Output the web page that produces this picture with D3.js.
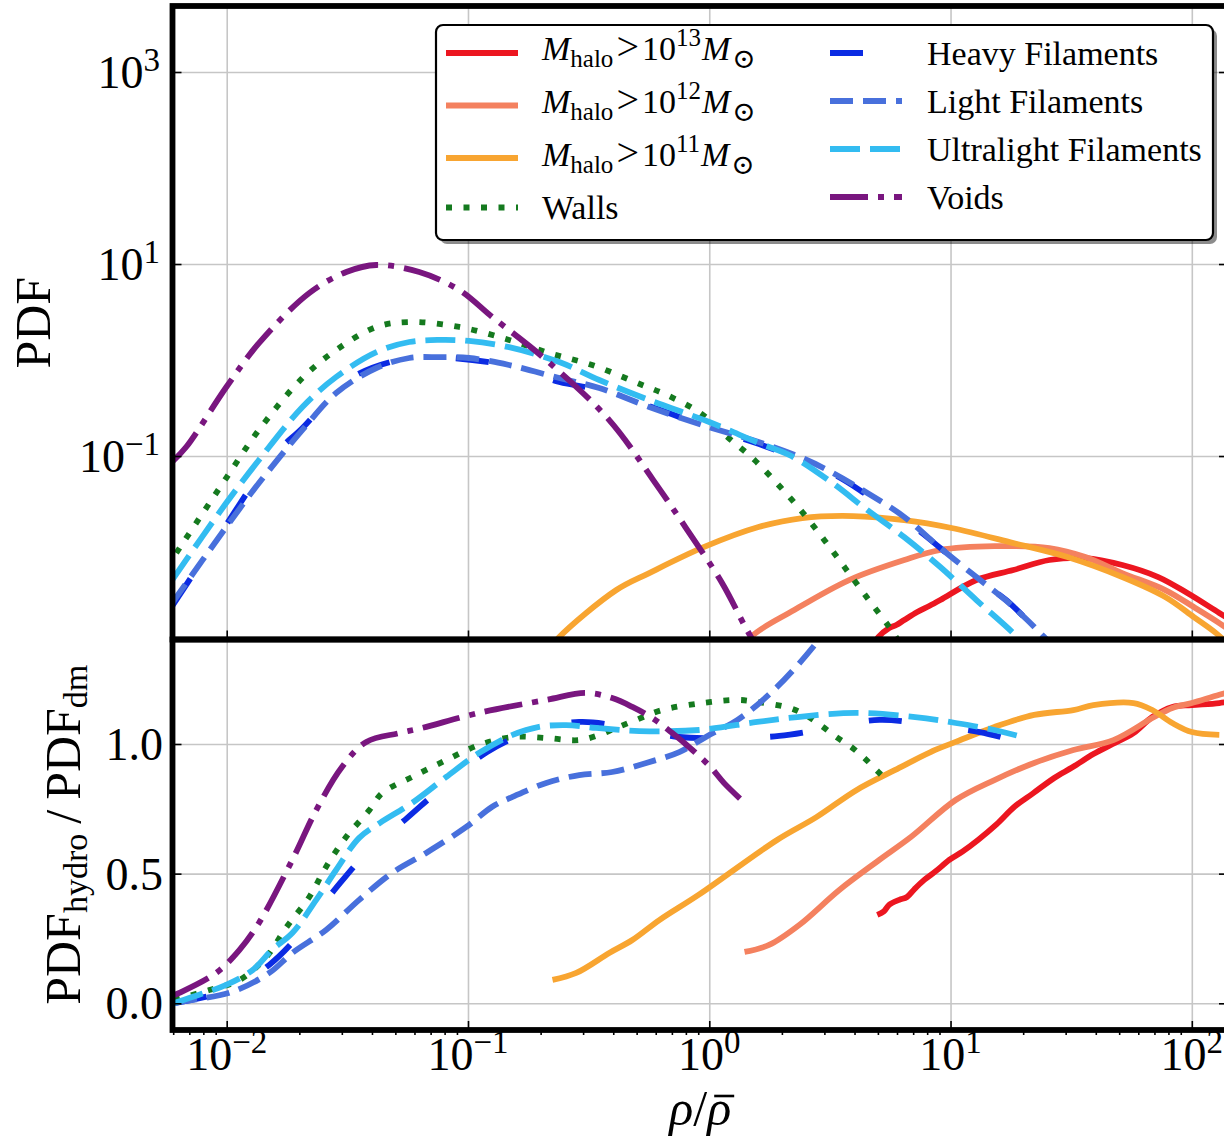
<!DOCTYPE html>
<html>
<head>
<meta charset="utf-8">
<script src="https://cdn.jsdelivr.net/npm/d3@7"></script>
<style>
  body { margin: 0; background: #fff; }
  svg { display: block; }
  text { font-family: "Liberation Serif", "Times New Roman", "DejaVu Serif", serif; fill: #000; }
</style>
</head>
<body>
<svg id="chart" width="1224" height="1138"></svg>
<script>
// ---------------- data ----------------
// tick values and labels
const xTickValues = [1e-2, 1e-1, 1e0, 1e1, 1e2];
const xTickExponents = ["\u22122", "\u22121", "0", "1", "2"];
const pdfTickValues = [1e3, 1e1, 1e-1];
const pdfTickExponents = ["3", "1", "\u22121"];
const ratioTickValues = [0, 0.5, 1.0];
const ratioTickLabels = ["0.0", "0.5", "1.0"];

// series names (legend order)
const seriesKeys = ["halo13", "halo12", "halo11", "walls", "heavy", "light", "ultra", "voids"];

// PDF of rho/rhobar, [x, PDF]
const halo13Pdf = [[4.69,0.00095],[5.02,0.0013],[5.57,0.00162],[5.96,0.00174],[6.43,0.00196],[7.28,0.00237],[8.16,0.00274],[9.07,0.00316],[12.8,0.00511],[18.2,0.00649],[25.7,0.00826],[36.2,0.00866],[51.5,0.00733],[72.6,0.00549],[95.8,0.00374],[130,0.00232],[157,0.00174]];
const halo12Pdf = [[1.41,0.00095],[1.49,0.0013],[2.25,0.00249],[3.80,0.00511],[6.43,0.00826],[9.07,0.0105],[15.2,0.0115],[25.7,0.0110],[36.2,0.00887],[51.5,0.00604],[77.6,0.00402],[102,0.00267],[130,0.00182],[157,0.0013]];
const halo11Pdf = [[0.217,0.00095],[0.239,0.0013],[0.412,0.00402],[0.564,0.00604],[0.953,0.0113],[1.60,0.0182],[2.43,0.0226],[3.95,0.0237],[6.43,0.0215],[10.1,0.0178],[18.2,0.0124],[30.5,0.00887],[51.5,0.00549],[77.6,0.0034],[102,0.0021],[126,0.00143],[150,0.00095]];
const wallsPdf = [[0.00618,0.00977],[0.00995,0.059],[0.0136,0.187],[0.0206,0.65],[0.0284,1.27],[0.0417,2.21],[0.0571,2.49],[0.092,2.21],[0.148,1.62],[0.217,1.18],[0.327,0.887],[0.527,0.55],[0.67,0.43],[0.918,0.28],[1.19,0.158],[1.54,0.0909],[1.97,0.0476],[2.43,0.0261],[3.0,0.0133],[3.66,0.0068],[4.52,0.00332],[5.57,0.00166],[6.2,0.0011]];
const heavyPdf = [[0.00594,0.00274],[0.00904,0.0133],[0.0157,0.102],[0.0206,0.196],[0.0328,0.649],[0.0571,1.05],[0.0861,1.05],[0.148,0.866],[0.239,0.590],[0.35,0.487],[0.627,0.301],[1.0,0.196],[1.61,0.133],[3.2,0.0665],[4.52,0.0392],[7.35,0.0169],[9.07,0.011],[12.8,0.00536],[17.0,0.00316],[21.2,0.00187],[25.2,0.00127],[28.8,0.0009]];
const lightPdf = [[0.00594,0.00294],[0.00995,0.0182],[0.0136,0.0523],[0.0206,0.187],[0.0284,0.453],[0.0417,0.826],[0.0571,1.05],[0.076,1.07],[0.101,1.05],[0.148,0.887],[0.239,0.649],[0.35,0.511],[0.564,0.324],[1.0,0.2],[1.6,0.14],[2.43,0.0953],[3.2,0.0681],[4.52,0.0412],[6.43,0.0232],[9.07,0.011],[12.8,0.00549],[16.9,0.00316],[20.8,0.00196],[24.7,0.00127],[28.2,0.00095]];
const ultraPdf = [[0.00594,0.00511],[0.00995,0.0324],[0.0136,0.0909],[0.0206,0.324],[0.0284,0.665],[0.0417,1.21],[0.0571,1.54],[0.076,1.62],[0.101,1.58],[0.148,1.36],[0.239,0.953],[0.35,0.619],[0.564,0.383],[1.0,0.226],[1.6,0.137],[2.19,0.1],[3.2,0.0536],[4.52,0.0274],[6.43,0.0143],[9.07,0.00698],[12.8,0.00316],[18.2,0.00143],[21.2,0.00095]];
const voidsPdf = [[0.00594,0.087],[0.00679,0.124],[0.00995,0.52],[0.0136,1.5],[0.022,4.99],[0.0313,8.26],[0.0417,9.77],[0.0628,8.26],[0.092,5.36],[0.126,2.81],[0.211,1.0],[0.385,0.237],[0.586,0.0562],[0.796,0.0182],[1.13,0.00476],[1.41,0.00166],[1.6,0.00095]];

// ratio PDF_hydro / PDF_dm, [x, ratio]
const halo13Ratio = [[4.97,0.341],[5.3,0.355],[5.57,0.38],[6.13,0.399],[6.6,0.41],[7.08,0.44],[7.78,0.476],[8.7,0.51],[9.88,0.553],[11.2,0.585],[13.0,0.63],[15.5,0.69],[18.4,0.758],[22.0,0.81],[26.9,0.869],[32.0,0.91],[39.1,0.961],[47.0,1.0],[57.3,1.042],[68.6,1.104],[83.0,1.143],[100,1.15],[130,1.158],[157,1.17]];
const halo12Ratio = [[1.40,0.198],[1.77,0.225],[2.36,0.302],[3.46,0.437],[5.07,0.553],[6.87,0.642],[10.5,0.784],[15.2,0.861],[22.2,0.927],[32.3,0.977],[47.3,1.015],[68.6,1.10],[83.0,1.139],[100,1.158],[130,1.19],[157,1.21]];
const halo11Ratio = [[0.224,0.090],[0.281,0.117],[0.385,0.194],[0.480,0.244],[0.621,0.321],[0.909,0.42],[1.91,0.63],[2.78,0.718],[4.07,0.822],[5.90,0.900],[8.64,0.977],[10.5,1.008],[15.2,1.066],[22.2,1.112],[32.3,1.131],[39.1,1.150],[57.3,1.158],[68.6,1.131],[83.0,1.081],[100,1.046],[130,1.035]];
const wallsRatio = [[0.00606,0.013],[0.00846,0.051],[0.0113,0.090],[0.0146,0.179],[0.0177,0.294],[0.022,0.410],[0.0258,0.526],[0.0313,0.642],[0.039,0.745],[0.0441,0.811],[0.0587,0.873],[0.0813,0.938],[0.111,0.996],[0.153,1.027],[0.211,1.023],[0.289,1.015],[0.35,1.035],[0.412,1.062],[0.498,1.093],[0.638,1.131],[0.935,1.158],[1.31,1.170],[1.58,1.162],[2.15,1.139],[2.50,1.112],[2.89,1.073],[3.36,1.027],[3.92,0.985],[4.39,0.946],[5.02,0.892],[5.57,0.850]];
const heavyRatio = [[0.00606,0.001],[0.0102,0.051],[0.015,0.148],[0.020,0.264],[0.0284,0.445],[0.039,0.591],[0.056,0.715],[0.076,0.823],[0.120,0.969],[0.179,1.046],[0.289,1.085],[0.466,1.062],[0.751,1.027],[1.21,1.023],[1.95,1.031],[3.14,1.062],[5.07,1.093],[8.16,1.073],[13.2,1.046],[16.7,1.023]];
const lightRatio = [[0.00606,0.001],[0.00679,0.009],[0.0105,0.044],[0.015,0.117],[0.0187,0.194],[0.0258,0.283],[0.0354,0.399],[0.0485,0.503],[0.0671,0.580],[0.0984,0.680],[0.126,0.758],[0.153,0.796],[0.211,0.850],[0.289,0.880],[0.396,0.892],[0.548,0.927],[0.751,0.969],[1.0,1.035],[1.31,1.093],[1.91,1.220],[2.78,1.390],[3.14,1.46]];
const ultraRatio = [[0.00606,0.001],[0.00719,0.024],[0.00995,0.071],[0.0128,0.128],[0.0154,0.206],[0.0187,0.271],[0.0235,0.399],[0.0284,0.514],[0.0354,0.638],[0.0432,0.696],[0.0587,0.773],[0.0813,0.873],[0.111,0.965],[0.153,1.035],[0.197,1.066],[0.255,1.073],[0.340,1.062],[0.513,1.050],[0.909,1.054],[1.58,1.085],[2.32,1.104],[4.07,1.120],[7.14,1.104],[10.5,1.081],[15.2,1.054],[19.8,1.027]];
const voidsRatio = [[0.00606,0.032],[0.00636,0.040],[0.00904,0.117],[0.0113,0.206],[0.0136,0.310],[0.0187,0.553],[0.0235,0.745],[0.0301,0.912],[0.0379,1.008],[0.0519,1.042],[0.0646,1.062],[0.111,1.120],[0.211,1.170],[0.309,1.197],[0.396,1.177],[0.480,1.143],[0.581,1.100],[0.703,1.042],[0.851,0.977],[1.01,0.912],[1.15,0.85],[1.36,0.784]];

const pdfSeries = { halo13: halo13Pdf, halo12: halo12Pdf, halo11: halo11Pdf, walls: wallsPdf,
                    heavy: heavyPdf, light: lightPdf, ultra: ultraPdf, voids: voidsPdf };
const ratioSeries = { halo13: halo13Ratio, halo12: halo12Ratio, halo11: halo11Ratio, walls: wallsRatio,
                      heavy: heavyRatio, light: lightRatio, ultra: ultraRatio, voids: voidsRatio };

// ---------------- styles ----------------
const styles = {
  halo13: { color: "#ec1620", dash: null },
  halo12: { color: "#f4815f", dash: null },
  halo11: { color: "#f8a531", dash: null },
  walls:  { color: "#157a1f", dash: "6 11.5" },
  heavy:  { color: "#0b2be3", dash: "33 67" },
  light:  { color: "#4870dc", dash: "23 10" },
  ultra:  { color: "#33bcf1", dash: "30 10" },
  voids:  { color: "#79167f", dash: "38 10 6 10" }
};
const lineWidth = 5.8;

// ---------------- layout ----------------
const L = 172.5, R = 1228, T = 6, MID = 639.5, B = 1030;
const svg = d3.select("#chart");

const x = d3.scaleLog().domain([Math.pow(10, -2.2247), Math.pow(10, 2.150)]).range([L, R]);
const yPdf = d3.scaleLog().domain([Math.pow(10, -2.911), Math.pow(10, 3.6875)]).range([MID, T]);
const yRatio = d3.scaleLinear().domain([-0.103, 1.403]).range([B, MID]);

const defs = svg.append("defs");
defs.append("clipPath").attr("id", "clipTop").append("rect")
  .attr("x", L).attr("y", T).attr("width", R - L).attr("height", MID - T);
defs.append("clipPath").attr("id", "clipBottom").append("rect")
  .attr("x", L).attr("y", MID).attr("width", R - L).attr("height", B - MID);

// ---------------- grid ----------------
function styleGrid(g) {
  g.select(".domain").remove();
  g.selectAll("line").attr("stroke", "#c6c6c6").attr("stroke-width", 1.6);
}
// vertical grid lines in both panels
svg.append("g").attr("transform", `translate(0,${MID})`)
  .call(d3.axisBottom(x).tickValues(xTickValues).tickSize(-(MID - T)).tickFormat(""))
  .call(styleGrid);
svg.append("g").attr("transform", `translate(0,${B})`)
  .call(d3.axisBottom(x).tickValues(xTickValues).tickSize(-(B - MID)).tickFormat(""))
  .call(styleGrid);
// horizontal grid lines
svg.append("g").attr("transform", `translate(${L},0)`)
  .call(d3.axisLeft(yPdf).tickValues(pdfTickValues).tickSize(-(R - L)).tickFormat(""))
  .call(styleGrid);
svg.append("g").attr("transform", `translate(${L},0)`)
  .call(d3.axisLeft(yRatio).tickValues(ratioTickValues).tickSize(-(R - L)).tickFormat(""))
  .call(styleGrid);

// ---------------- curves ----------------
function drawSeries(group, seriesMap, yScale) {
  const line = d3.line()
    .x(d => x(d[0]))
    .y(d => yScale(d[1]))
    .curve(d3.curveCatmullRom.alpha(0.5));
  seriesKeys.forEach(k => {
    const s = styles[k];
    group.append("path")
      .datum(seriesMap[k])
      .attr("d", line)
      .attr("fill", "none")
      .attr("stroke", s.color)
      .attr("stroke-width", lineWidth)
      .attr("stroke-linejoin", "round")
      .attr("stroke-linecap", "butt")
      .attr("stroke-dasharray", s.dash);
  });
}
drawSeries(svg.append("g").attr("clip-path", "url(#clipTop)"), pdfSeries, yPdf);
drawSeries(svg.append("g").attr("clip-path", "url(#clipBottom)"), ratioSeries, yRatio);

// ---------------- ticks ----------------
function styleTicks(g) {
  g.select(".domain").remove();
  g.selectAll("line").attr("stroke", "#000").attr("stroke-width", 1.6);
}
const minorX = [];
for (let e = -3; e <= 2; e++) for (let m = 2; m <= 9; m++) {
  const v = m * Math.pow(10, e);
  if (v > x.domain()[0] && v < x.domain()[1]) minorX.push(v);
}
// major ticks point into each panel
[MID, B].forEach(yy => {
  svg.append("g").attr("transform", `translate(0,${yy})`)
    .call(d3.axisBottom(x).tickValues(xTickValues).tickSize(-9).tickFormat(""))
    .call(styleTicks);
});
svg.append("g").attr("transform", `translate(0,${B})`)
  .call(d3.axisBottom(x).tickValues(minorX).tickSize(5).tickFormat(""))
  .call(styleTicks);
svg.append("g").attr("transform", `translate(${L},0)`)
  .call(d3.axisLeft(yPdf).tickValues(pdfTickValues).tickSize(-9).tickFormat(""))
  .call(styleTicks);
svg.append("g").attr("transform", `translate(${L},0)`)
  .call(d3.axisLeft(yRatio).tickValues(ratioTickValues).tickSize(-9).tickFormat(""))
  .call(styleTicks);
svg.append("g").attr("transform", `translate(${R},0)`)
  .call(d3.axisRight(yPdf).tickValues(pdfTickValues).tickSize(-9).tickFormat(""))
  .call(styleTicks);
svg.append("g").attr("transform", `translate(${R},0)`)
  .call(d3.axisRight(yRatio).tickValues(ratioTickValues).tickSize(-9).tickFormat(""))
  .call(styleTicks);

// ---------------- frames ----------------
svg.append("rect").attr("x", L).attr("y", T).attr("width", R - L).attr("height", MID - T)
  .attr("fill", "none").attr("stroke", "#000").attr("stroke-width", 5.8);
svg.append("rect").attr("x", L).attr("y", MID).attr("width", R - L).attr("height", B - MID)
  .attr("fill", "none").attr("stroke", "#000").attr("stroke-width", 5.8);

// ---------------- tick labels ----------------
const tickFont = 46, supFont = 33;
xTickValues.forEach((v, i) => {
  const t = svg.append("text").attr("x", x(v)).attr("y", 1070)
    .attr("text-anchor", "middle").attr("font-size", tickFont);
  t.append("tspan").text("10");
  t.append("tspan").attr("font-size", supFont).attr("dy", -17).text(xTickExponents[i]);
});
pdfTickValues.forEach((v, i) => {
  const t = svg.append("text").attr("x", 160).attr("y", yPdf(v) + 16)
    .attr("text-anchor", "end").attr("font-size", tickFont);
  t.append("tspan").text("10");
  t.append("tspan").attr("font-size", supFont).attr("dy", -17).text(pdfTickExponents[i]);
});
ratioTickValues.forEach((v, i) => {
  svg.append("text").attr("x", 163).attr("y", yRatio(v) + 16)
    .attr("text-anchor", "end").attr("font-size", tickFont).text(ratioTickLabels[i]);
});

// ---------------- axis titles ----------------
const labelFont = 50;
svg.append("text").attr("transform", `translate(50,${(T + MID) / 2}) rotate(-90)`)
  .attr("text-anchor", "middle").attr("font-size", labelFont).text("PDF");

const ratioLabel = svg.append("text").attr("transform", `translate(80,${(MID + B) / 2}) rotate(-90)`)
  .attr("text-anchor", "middle").attr("font-size", labelFont);
ratioLabel.append("tspan").text("PDF");
ratioLabel.append("tspan").attr("font-size", 34).attr("dy", 7).text("hydro");
ratioLabel.append("tspan").attr("dy", -7).text("\u2009/\u2009PDF");
ratioLabel.append("tspan").attr("font-size", 34).attr("dy", 7).text("dm");

const xLabel = svg.append("text").attr("x", (L + R) / 2).attr("y", 1125)
  .attr("text-anchor", "middle").attr("font-size", labelFont);
xLabel.append("tspan").attr("font-style", "italic").text("\u03c1");
xLabel.append("tspan").text("/");
xLabel.append("tspan").attr("font-style", "italic").text("\u03c1");
{
  const node = xLabel.node();
  const s = node.getStartPositionOfChar(2), e = node.getEndPositionOfChar(2);
  svg.append("line").attr("x1", s.x + 7).attr("x2", e.x + 3)
    .attr("y1", 1125 - 29).attr("y2", 1125 - 29)
    .attr("stroke", "#000").attr("stroke-width", 2.6);
}

// ---------------- legend ----------------
const legend = svg.append("g");
const LX = 436, LY = 25, LW = 777, LH = 215;
legend.append("rect").attr("x", LX + 4).attr("y", LY + 4).attr("width", LW).attr("height", LH)
  .attr("rx", 7).attr("fill", "#000").attr("opacity", 0.45);
legend.append("rect").attr("x", LX).attr("y", LY).attr("width", LW).attr("height", LH)
  .attr("rx", 7).attr("fill", "#fff").attr("stroke", "#000").attr("stroke-width", 2.2);

const legendRows = {
  halo13: { hx: 446, tx: 542, hy: 53,    ty: 60 },
  halo12: { hx: 446, tx: 542, hy: 105.5, ty: 113 },
  halo11: { hx: 446, tx: 542, hy: 158,   ty: 166 },
  walls:  { hx: 446, tx: 542, hy: 207.5, ty: 219 },
  heavy:  { hx: 830, tx: 927, hy: 53,    ty: 65 },
  light:  { hx: 830, tx: 927, hy: 101,   ty: 113 },
  ultra:  { hx: 830, tx: 927, hy: 149,   ty: 161 },
  voids:  { hx: 830, tx: 927, hy: 197,   ty: 209 }
};
const legendText = {
  halo13: "13", halo12: "12", halo11: "11",
  walls: "Walls", heavy: "Heavy Filaments", light: "Light Filaments",
  ultra: "Ultralight Filaments", voids: "Voids"
};
const legFont = 34, legSub = 25;
seriesKeys.forEach(k => {
  const r = legendRows[k], s = styles[k];
  legend.append("line").attr("x1", r.hx).attr("x2", r.hx + 72)
    .attr("y1", r.hy).attr("y2", r.hy)
    .attr("stroke", s.color).attr("stroke-width", lineWidth)
    .attr("stroke-dasharray", s.dash);
  const t = legend.append("text").attr("x", r.tx).attr("y", r.ty).attr("font-size", legFont);
  if (k.startsWith("halo")) {
    t.append("tspan").attr("font-style", "italic").text("M");
    t.append("tspan").attr("font-size", legSub).attr("dy", 7).text("halo");
    t.append("tspan").attr("dy", -7).attr("dx", 3).attr("font-size", 40).text(">");
    t.append("tspan").attr("dx", 3).text("10");
    t.append("tspan").attr("font-size", legSub).attr("dy", -14).text(legendText[k]);
    t.append("tspan").attr("font-style", "italic").attr("dy", 14).attr("dx", 1).text("M");
    t.append("tspan").attr("font-size", 28).attr("dy", 8).attr("dx", 2).text("\u2299");
  } else {
    t.text(legendText[k]);
  }
});
</script>
</body>
</html>
